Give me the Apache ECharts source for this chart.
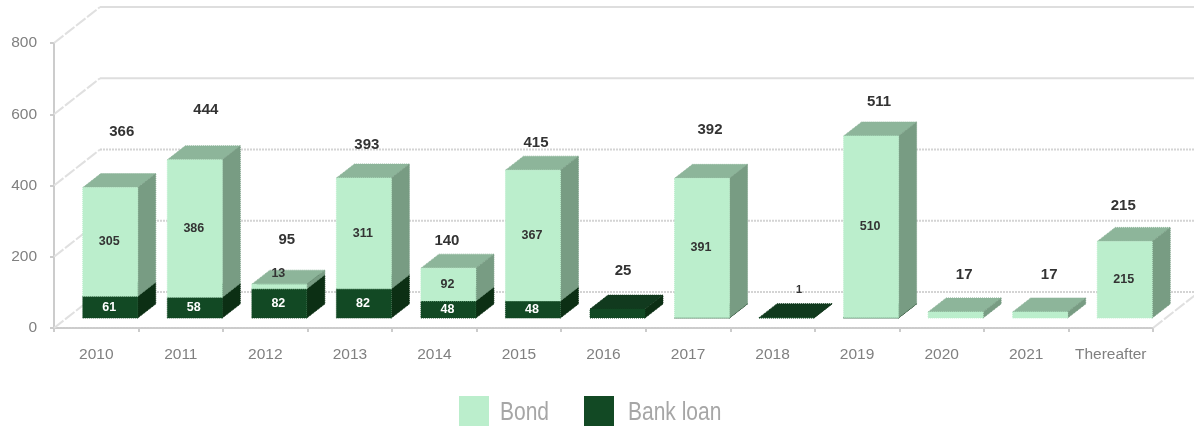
<!DOCTYPE html>
<html><head><meta charset="utf-8">
<style>html,body{margin:0;padding:0;background:#fff}#c{width:1194px;height:428px}</style>
<script src="https://cdn.jsdelivr.net/npm/echarts@6/dist/echarts.min.js"></script>
</head><body><div id="c"></div>
<script>
const categories = ['2010','2011','2012','2013','2014','2015','2016','2017','2018','2019','2020','2021','Thereafter'];
const bond  = [305,386,13,311,92,367,0,391,0,510,17,17,215];
const bank  = [61,58,82,82,48,48,25,1,1,1,0,0,0];
const totals = [366,444,95,393,140,415,25,392,1,511,17,17,215];
const yTicks = [0,200,400,600,800];
const seriesNames = ['Bond','Bank loan'];

// layout only: where each total caption floats (axis units) and its sideways nudge (px)
const totalLevel = [553,615,250,516,247,522,163,559,109,637,152,152,345];
const totalNudge = [11.5,11,7.5,3,-1.5,3,5.5,8,12.5,8,8.5,9,-1.5];

const WALL = [46,-36], BASE = [13,-10], DEPTH = [18,-14], BAR_W = 55;
const FONT = '"Liberation Sans", Arial, sans-serif';
const COL = {
  Bond: {front:'#bbeecc', top:'#8db59a', side:'#789c83', text:'#333333'},
  'Bank loan': {front:'#124924', top:'#113a1e', side:'#0c2f14', text:'#ffffff'}
};

function poly(pts, fill){
  return {type:'polygon', shape:{points:pts},
    style:{fill:fill, stroke:fill, lineWidth:1, lineDash:[1,1]}};
}
function barItem(name, showLabel){
  return function(params, api){
    const i = api.value(0), b = api.value(1), v = api.value(2);
    if (!v) return null;
    const c = COL[name];
    const p0 = api.coord([i,b]), p1 = api.coord([i,b+v]);
    const cx = p0[0] + BASE[0] + 1;
    const xl = cx - BAR_W/2, xr = cx + BAR_W/2;
    const yb = p0[1] + BASE[1], yt = p1[1] + BASE[1];
    const dx = DEPTH[0], dy = DEPTH[1];
    const kids = [
      poly([[xl,yt],[xr,yt],[xr+dx,yt+dy],[xl+dx,yt+dy]], c.top),
      poly([[xr,yb],[xr+dx,yb+dy],[xr+dx,yt+dy],[xr,yt]], c.side),
      poly([[xl,yb],[xr,yb],[xr,yt],[xl,yt]], c.front)
    ];
    if (showLabel(i)) {
      let ly = (yb+yt)/2, lx = cx - 1;
      if (name==='Bond' && v===13){ ly -= 13; }
      kids.push({type:'text', z2:50, style:{x:lx, y:ly, text:String(v), fill:c.text,
        font:'bold 12.5px '+FONT, textAlign:'center', textVerticalAlign:'middle'}});
    }
    return {type:'group', children:kids};
  };
}
function wallItem(params, api){
  const t = api.value(1);
  const a = api.coord([0,t]);
  const x0 = params.coordSys.x, x1 = x0 + params.coordSys.width;
  const bx = x0+WALL[0], by = a[1]+WALL[1];
  const dotted = t < 600;
  const kids = [
    {type:'line', shape:{x1:x0,y1:a[1],x2:bx,y2:by},
      style:{stroke:'#e0e0e0', lineWidth:2, lineDash:[12,2]}},
    {type:'line', shape:{x1:bx,y1:by,x2:x1+WALL[0],y2:by},
      style:{stroke:dotted?'#d4d4d4':'#dedede', lineWidth:2, lineDash:dotted?[2,1]:null}}
  ];
  if (t === 0) kids.push({type:'line', shape:{x1:x1,y1:a[1],x2:x1+WALL[0],y2:by},
      style:{stroke:'#e0e0e0', lineWidth:2, lineDash:[12,2]}});
  return {type:'group', children:kids};
}
function totalItem(params, api){
  const i = api.value(0), lvl = api.value(1), tot = api.value(2), nudge = api.value(3);
  const p = api.coord([i,lvl]);
  return {type:'text', style:{x:p[0]+BASE[0]+1+nudge, y:p[1]+1, text:String(tot), fill:'#333333',
    font:(tot===1?'bold 11px ':'bold 15px ')+FONT, textAlign:'center', textVerticalAlign:'middle'}};
}

const chart = echarts.init(document.getElementById('c'), null, {renderer:'canvas'});
chart.setOption({
  animation:false,
  backgroundColor:'#ffffff',
  grid:{left:54, right:41, top:43, bottom:100},
  legend:{left:459, top:396, padding:0, itemWidth:30, itemHeight:30, itemGap:95, icon:'rect',
    data:seriesNames, formatter:()=>'', selectedMode:false},
  graphic:[
    {type:'text', left:500, top:401, scaleX:0.84, silent:true,
      style:{text:seriesNames[0], fill:'#a6a6a6', font:'25px '+FONT}},
    {type:'text', left:628, top:401, scaleX:0.84, silent:true,
      style:{text:seriesNames[1], fill:'#a6a6a6', font:'25px '+FONT}}
  ],
  xAxis:{type:'category', data:categories,
    axisLine:{lineStyle:{color:'#cccccc', width:2, type:[2,1]}},
    axisTick:{show:true, alignWithLabel:false, length:4, lineStyle:{color:'#cccccc', width:2}},
    axisLabel:{color:'#808080', fontSize:15.5, fontFamily:FONT, margin:19, interval:0},
    splitLine:{show:false}},
  yAxis:{type:'value', min:0, max:800, interval:200,
    axisLine:{show:true, lineStyle:{color:'#cccccc', width:2}},
    axisTick:{show:true, length:4, lineStyle:{color:'#cccccc', width:2}},
    axisLabel:{color:'#808080', fontSize:15.5, fontFamily:FONT, margin:17},
    splitLine:{show:false}},
  series:[
    {type:'custom', name:'wall', silent:true, z:1, renderItem:wallItem,
      data:yTicks.map(t=>[0,t]), encode:{x:0,y:1}, clip:false},
    {type:'custom', name:'Bank loan', z:3, itemStyle:{color:COL['Bank loan'].front},
      renderItem:barItem('Bank loan', i=>bank[i]>1 && bank[i]!==25),
      data:bank.map((v,i)=>[i,0,v]), encode:{x:0,y:2}, clip:false},
    {type:'custom', name:'Bond', z:4, itemStyle:{color:COL.Bond.front},
      renderItem:barItem('Bond', i=>bond[i]!==17 && bond[i]>0),
      data:bond.map((v,i)=>[i,bank[i],v]), encode:{x:0,y:2}, clip:false},
    {type:'custom', name:'Total', z:5, silent:true, renderItem:totalItem,
      data:totals.map((v,i)=>[i,totalLevel[i],v,totalNudge[i]]), encode:{x:0,y:1}, clip:false}
  ]
});
</script></body></html>
